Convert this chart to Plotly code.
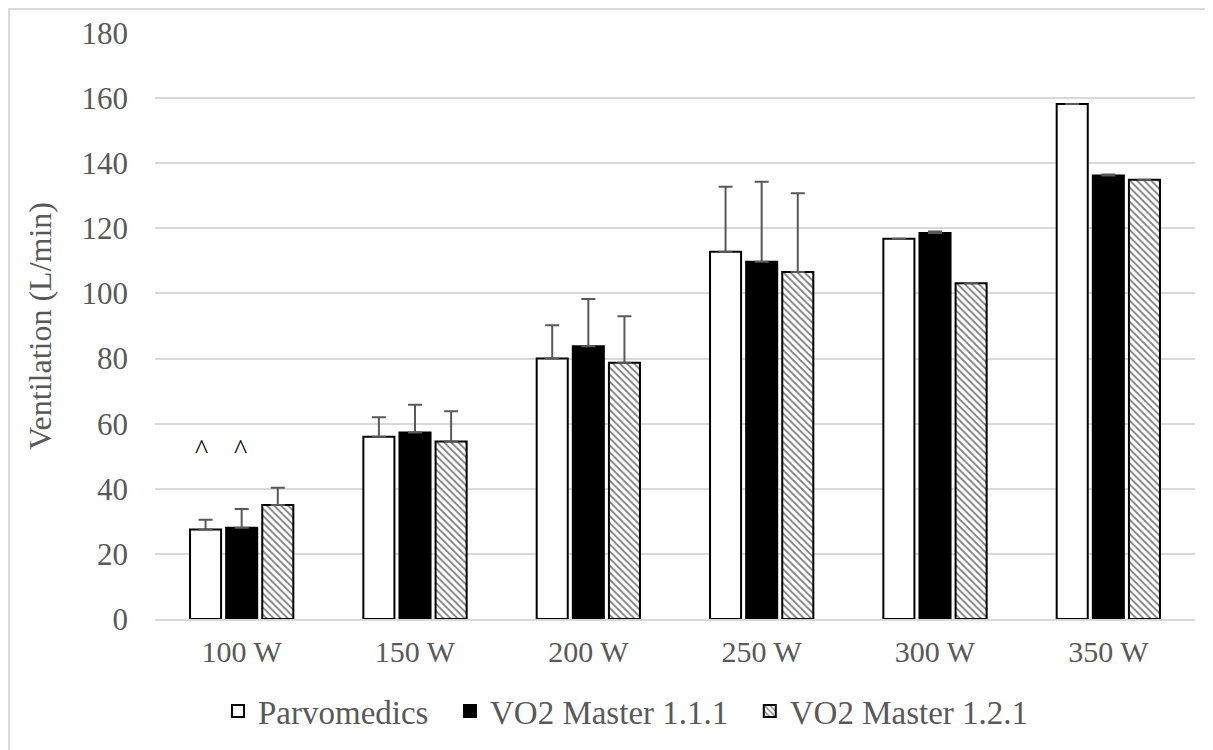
import plotly.graph_objects as go

categories = ["100 W", "150 W", "200 W", "250 W", "300 W", "350 W"]
parvo = [27.5, 56.0, 80.0, 112.8, 116.8, 158.2]
parvo_err = [3.0, 6.0, 10.2, 20.0, 0.0, 0.0]
vo2_111 = [28.0, 57.3, 83.8, 109.7, 118.6, 136.2]
vo2_111_err = [5.8, 8.5, 14.5, 24.6, 0.4, 0.3]
vo2_121 = [35.0, 54.5, 78.7, 106.6, 103.1, 134.9]
vo2_121_err = [5.3, 9.3, 14.3, 24.2, 0.0, 0.0]
y_ticks = [0, 20, 40, 60, 80, 100, 120, 140, 160, 180]
series_names = ["Parvomedics", "VO2 Master 1.1.1", "VO2 Master 1.2.1"]

FONT = "Liberation Serif, Times New Roman, serif"
TXT = "#595959"
ERR_COLOR = "#595959"
PAD = "\u00a0\u00a0"

W, H = 1205, 742
ML, MR, MT, MB = 147, 18, 25, 131
PW, PH = W - ML - MR, H - MT - MB

def err(vals):
    return dict(type="data", array=vals, symmetric=False, arrayminus=[0]*len(vals),
                color=ERR_COLOR, thickness=2, width=7)

fig = go.Figure()
fig.add_bar(name=series_names[0] + PAD, x=categories, y=parvo, error_y=err(parvo_err),
            marker=dict(color="white", line=dict(color="black", width=2)))
fig.add_bar(name=series_names[1] + PAD, x=categories, y=vo2_111, error_y=err(vo2_111_err),
            marker=dict(color="black", line=dict(color="black", width=2)))
fig.add_bar(name=series_names[2], x=categories, y=vo2_121, error_y=err(vo2_121_err),
            marker=dict(color="white", line=dict(color="black", width=2),
                        pattern=dict(shape="\\", fgcolor="black", bgcolor="white",
                                     size=5, solidity=0.35)))

# significance markers above 100 W bars
for shift in (-40, -1):
    fig.add_annotation(x=categories[0], y=52.5, text="^", showarrow=False, xshift=shift,
                       font=dict(family=FONT, size=28, color="black"))

fig.update_layout(
    width=W, height=H,
    margin=dict(l=ML, r=MR, t=MT, b=MB, autoexpand=False),
    paper_bgcolor="white", plot_bgcolor="white",
    barmode="group", bargap=0.375, bargroupgap=0.14,
    font=dict(family=FONT, color=TXT, size=30),
    showlegend=True,
    legend=dict(orientation="h", x=(210 - ML) / PW, xanchor="left",
                y=-92 / PH, yanchor="middle", bgcolor="rgba(0,0,0,0)",
                font=dict(family=FONT, size=33, color=TXT),
                itemwidth=30, traceorder="normal"),
    xaxis=dict(showgrid=False, showline=True, linecolor="#d9d9d9", linewidth=2,
               ticks="", ticklen=0, ticklabelstandoff=5,
               tickfont=dict(size=30, color=TXT)),
    yaxis=dict(range=[0, 180], tickvals=y_ticks, showgrid=True, gridcolor="#d9d9d9",
               gridwidth=2, zeroline=False, showline=False, ticks="", ticklen=0,
               ticklabelstandoff=26,
               title=dict(text="Ventilation (L/min)", font=dict(size=32, color=TXT),
                          standoff=20),
               tickfont=dict(size=31, color=TXT)),
)

# outer chart border (left/top visible)
fig.add_shape(type="rect", xref="paper", yref="paper",
              x0=(1 - ML) / PW, x1=1.2, y0=-0.5, y1=1 + (MT - 1) / PH,
              line=dict(color="#d9d9d9", width=2), fillcolor="rgba(0,0,0,0)", layer="below")

fig.write_html("out.html")
